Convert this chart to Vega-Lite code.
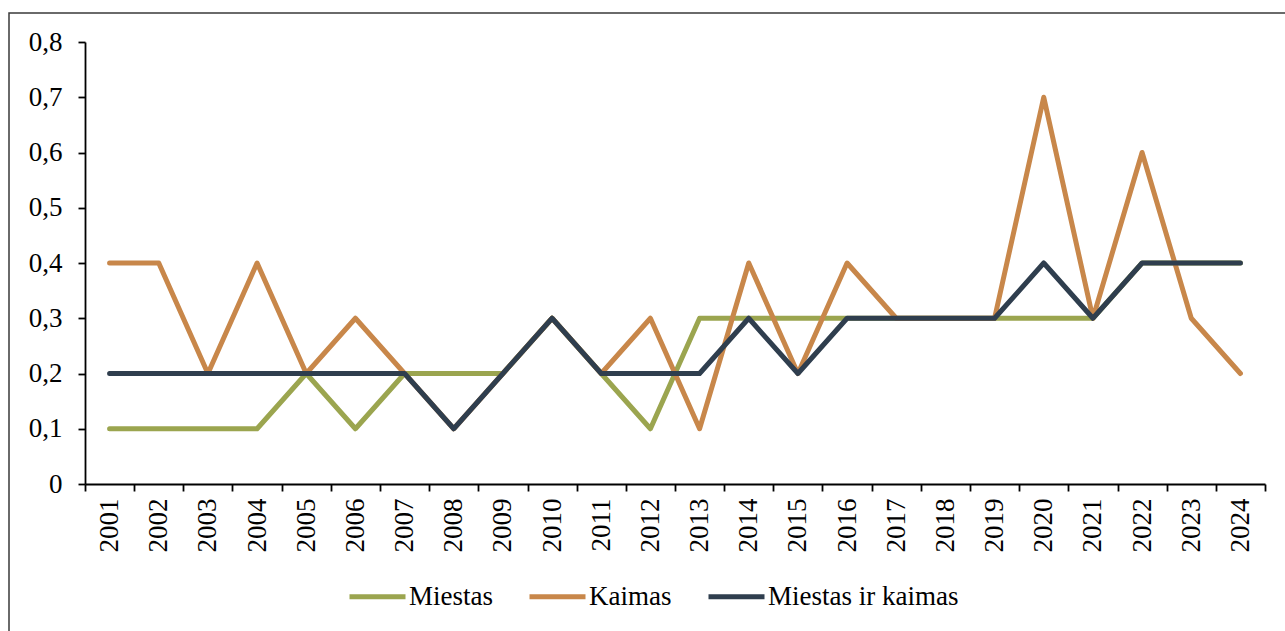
{
  "$schema": "https://vega.github.io/schema/vega-lite/v6.json",
  "width": 1278,
  "height": 620,
  "autosize": {"type": "none"},
  "padding": {"left": 9, "top": 13, "right": 0, "bottom": 0},
  "background": "white",
  "config": {"view": {"stroke": "#3a3a3a", "strokeWidth": 1.5}, "font": "Liberation Serif"},
  "data": {"values": [
    {"year": "2001", "series": "Miestas", "value": 0.1},
    {"year": "2002", "series": "Miestas", "value": 0.1},
    {"year": "2003", "series": "Miestas", "value": 0.1},
    {"year": "2004", "series": "Miestas", "value": 0.1},
    {"year": "2005", "series": "Miestas", "value": 0.2},
    {"year": "2006", "series": "Miestas", "value": 0.1},
    {"year": "2007", "series": "Miestas", "value": 0.2},
    {"year": "2008", "series": "Miestas", "value": 0.2},
    {"year": "2009", "series": "Miestas", "value": 0.2},
    {"year": "2010", "series": "Miestas", "value": 0.3},
    {"year": "2011", "series": "Miestas", "value": 0.2},
    {"year": "2012", "series": "Miestas", "value": 0.1},
    {"year": "2013", "series": "Miestas", "value": 0.3},
    {"year": "2014", "series": "Miestas", "value": 0.3},
    {"year": "2015", "series": "Miestas", "value": 0.3},
    {"year": "2016", "series": "Miestas", "value": 0.3},
    {"year": "2017", "series": "Miestas", "value": 0.3},
    {"year": "2018", "series": "Miestas", "value": 0.3},
    {"year": "2019", "series": "Miestas", "value": 0.3},
    {"year": "2020", "series": "Miestas", "value": 0.3},
    {"year": "2021", "series": "Miestas", "value": 0.3},
    {"year": "2022", "series": "Miestas", "value": 0.4},
    {"year": "2023", "series": "Miestas", "value": 0.4},
    {"year": "2024", "series": "Miestas", "value": 0.4},
    {"year": "2001", "series": "Kaimas", "value": 0.4},
    {"year": "2002", "series": "Kaimas", "value": 0.4},
    {"year": "2003", "series": "Kaimas", "value": 0.2},
    {"year": "2004", "series": "Kaimas", "value": 0.4},
    {"year": "2005", "series": "Kaimas", "value": 0.2},
    {"year": "2006", "series": "Kaimas", "value": 0.3},
    {"year": "2007", "series": "Kaimas", "value": 0.2},
    {"year": "2008", "series": "Kaimas", "value": 0.1},
    {"year": "2009", "series": "Kaimas", "value": 0.2},
    {"year": "2010", "series": "Kaimas", "value": 0.3},
    {"year": "2011", "series": "Kaimas", "value": 0.2},
    {"year": "2012", "series": "Kaimas", "value": 0.3},
    {"year": "2013", "series": "Kaimas", "value": 0.1},
    {"year": "2014", "series": "Kaimas", "value": 0.4},
    {"year": "2015", "series": "Kaimas", "value": 0.2},
    {"year": "2016", "series": "Kaimas", "value": 0.4},
    {"year": "2017", "series": "Kaimas", "value": 0.3},
    {"year": "2018", "series": "Kaimas", "value": 0.3},
    {"year": "2019", "series": "Kaimas", "value": 0.3},
    {"year": "2020", "series": "Kaimas", "value": 0.7},
    {"year": "2021", "series": "Kaimas", "value": 0.3},
    {"year": "2022", "series": "Kaimas", "value": 0.6},
    {"year": "2023", "series": "Kaimas", "value": 0.3},
    {"year": "2024", "series": "Kaimas", "value": 0.2},
    {"year": "2001", "series": "Miestas ir kaimas", "value": 0.2},
    {"year": "2002", "series": "Miestas ir kaimas", "value": 0.2},
    {"year": "2003", "series": "Miestas ir kaimas", "value": 0.2},
    {"year": "2004", "series": "Miestas ir kaimas", "value": 0.2},
    {"year": "2005", "series": "Miestas ir kaimas", "value": 0.2},
    {"year": "2006", "series": "Miestas ir kaimas", "value": 0.2},
    {"year": "2007", "series": "Miestas ir kaimas", "value": 0.2},
    {"year": "2008", "series": "Miestas ir kaimas", "value": 0.1},
    {"year": "2009", "series": "Miestas ir kaimas", "value": 0.2},
    {"year": "2010", "series": "Miestas ir kaimas", "value": 0.3},
    {"year": "2011", "series": "Miestas ir kaimas", "value": 0.2},
    {"year": "2012", "series": "Miestas ir kaimas", "value": 0.2},
    {"year": "2013", "series": "Miestas ir kaimas", "value": 0.2},
    {"year": "2014", "series": "Miestas ir kaimas", "value": 0.3},
    {"year": "2015", "series": "Miestas ir kaimas", "value": 0.2},
    {"year": "2016", "series": "Miestas ir kaimas", "value": 0.3},
    {"year": "2017", "series": "Miestas ir kaimas", "value": 0.3},
    {"year": "2018", "series": "Miestas ir kaimas", "value": 0.3},
    {"year": "2019", "series": "Miestas ir kaimas", "value": 0.3},
    {"year": "2020", "series": "Miestas ir kaimas", "value": 0.4},
    {"year": "2021", "series": "Miestas ir kaimas", "value": 0.3},
    {"year": "2022", "series": "Miestas ir kaimas", "value": 0.4},
    {"year": "2023", "series": "Miestas ir kaimas", "value": 0.4},
    {"year": "2024", "series": "Miestas ir kaimas", "value": 0.4}
  ]},
  "mark": {"type": "line", "strokeWidth": 5, "strokeCap": "round", "strokeJoin": "round"},
  "encoding": {
    "x": {
      "field": "year", "type": "ordinal",
      "scale": {"type": "band", "range": [76, 1256], "paddingInner": 0, "paddingOuter": 0},
      "axis": {
        "title": null, "labelAngle": -90, "labelAlign": "right", "labelBaseline": "middle",
        "labelFontSize": 27, "labelFont": "Liberation Serif", "labelColor": "black",
        "labelPadding": 7, "tickBand": "extent", "tickSize": 7, "tickWidth": 1.8,
        "tickColor": "black", "domainColor": "black", "domainWidth": 1.8,
        "offset": -149, "grid": false
      }
    },
    "y": {
      "field": "value", "type": "quantitative",
      "scale": {"domain": [0, 0.8], "range": [471, 29], "nice": false},
      "axis": {
        "title": null, "values": [0, 0.1, 0.2, 0.3, 0.4, 0.5, 0.6, 0.7, 0.8],
        "labelExpr": "replace(format(datum.value, '.1~f'), '.', ',')",
        "labelFontSize": 27, "labelFont": "Liberation Serif", "labelColor": "black",
        "labelPadding": 16, "tickSize": 7, "tickWidth": 1.8, "tickColor": "black",
        "domainColor": "black", "domainWidth": 1.8, "offset": -76, "grid": false
      }
    },
    "color": {
      "field": "series", "type": "nominal",
      "scale": {"domain": ["Miestas", "Kaimas", "Miestas ir kaimas"], "range": ["#9ba54f", "#c8874a", "#2f3e4e"]},
      "legend": {
        "title": null, "orient": "none", "legendX": 338, "legendY": 553, "direction": "horizontal",
        "symbolType": "stroke", "symbolSize": 3136, "symbolStrokeWidth": 5,
        "labelFontSize": 27, "labelFont": "Liberation Serif", "labelColor": "black",
        "labelOffset": 1, "columnPadding": 26, "labelLimit": 500
      }
    }
  }
}
